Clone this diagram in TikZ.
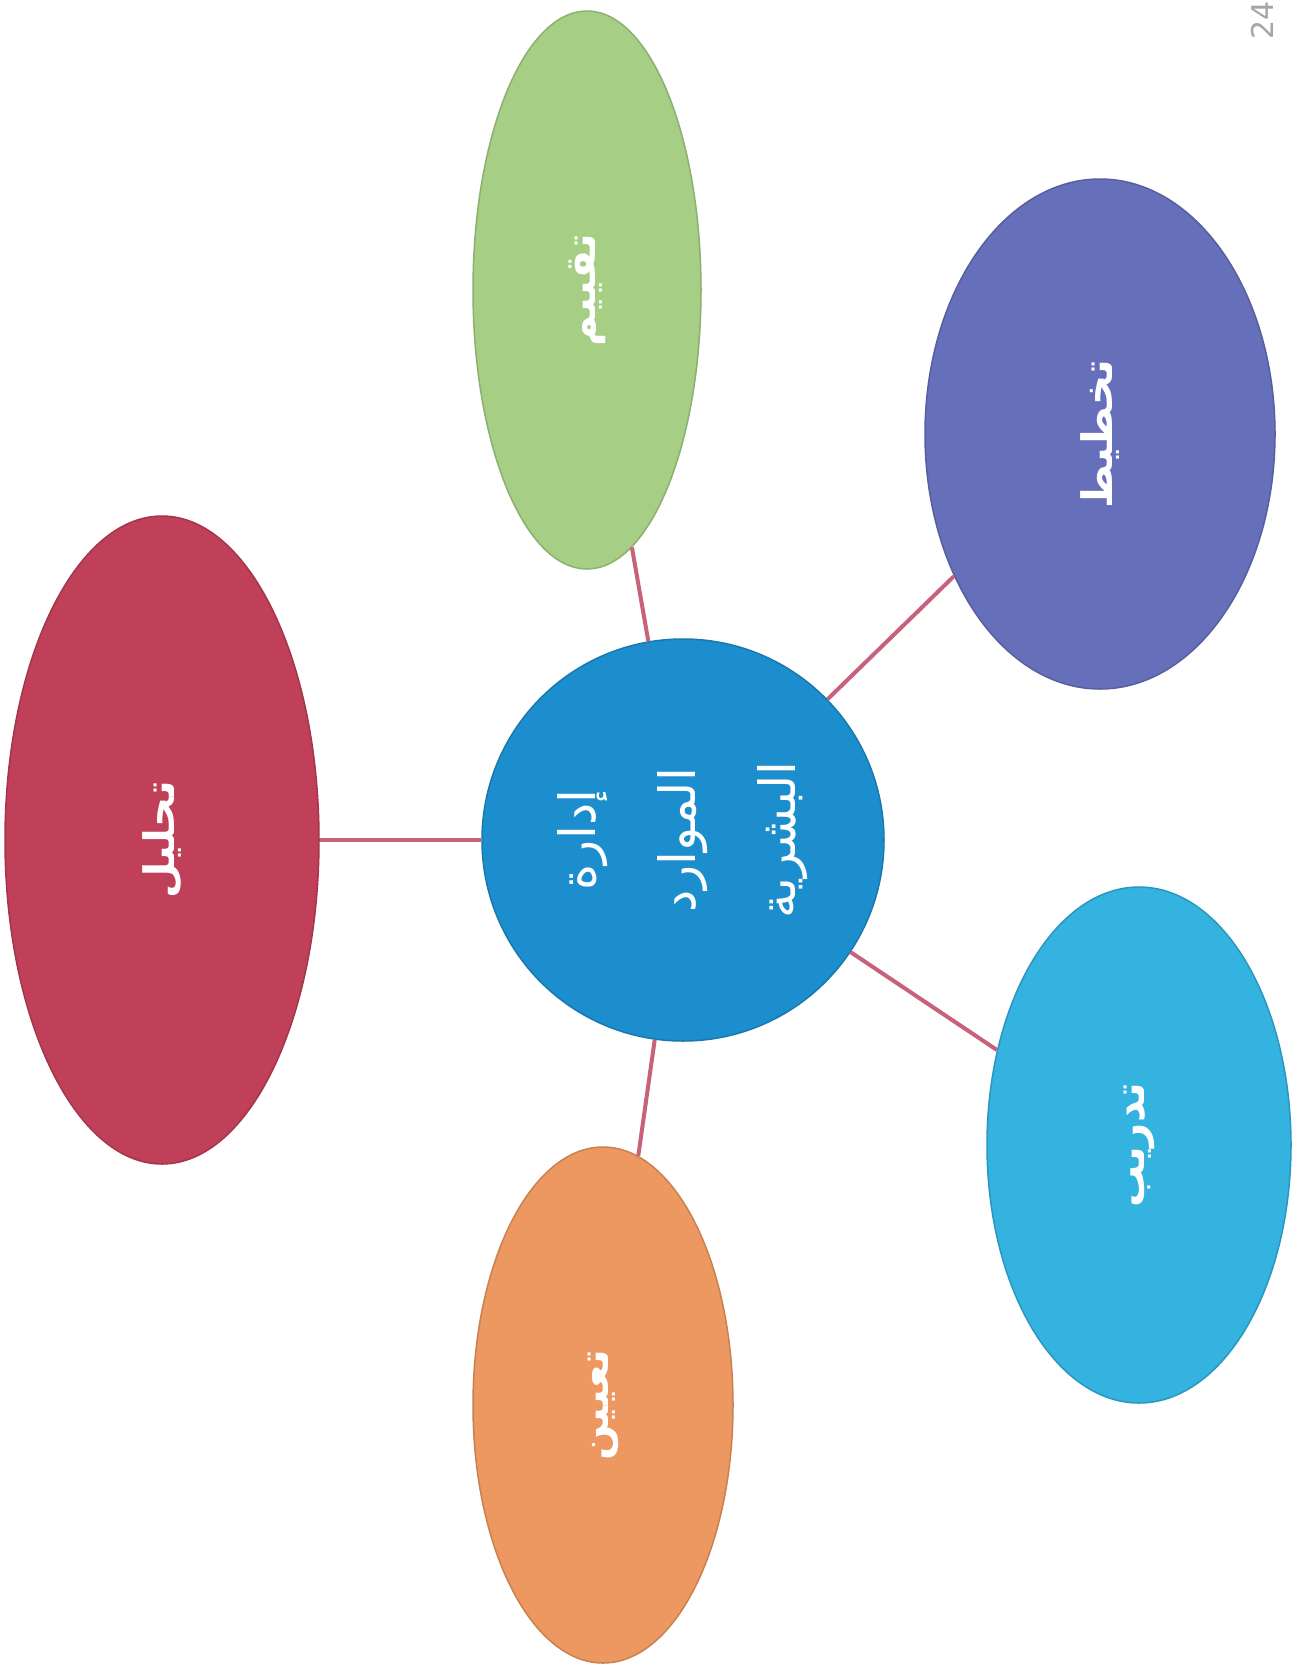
\documentclass[tikz,border=0pt]{standalone}
\usepackage{fontspec}
\usepackage{tikz}
\usetikzlibrary{shapes.geometric}
\TeXXeTstate=1
\newfontfamily\arabicfont[Script=Arabic]{DejaVu Sans}
\definecolor{hrmred}{RGB}{192, 64, 90}
\definecolor{hrmgreen}{RGB}{166, 206, 132}
\definecolor{hrmpurple}{RGB}{102, 112, 186}
\definecolor{hrmcyan}{RGB}{52, 178, 224}
\definecolor{hrmorange}{RGB}{236, 152, 96}
\definecolor{hrmblue}{RGB}{28, 142, 206}
\definecolor{hrmlink}{RGB}{200, 98, 122}

\begin{document}
\begin{tikzpicture}[x=1pt, y=-1pt, every node/.style={align=center, text=white, rotate=90},
    bubble/.style={ellipse, draw=#1!85!black, line width=1.5pt, fill=#1, inner sep=0pt,
      font=\arabicfont\bfseries\fontsize{42}{52}\selectfont},
    link/.style={draw=hrmlink, line width=4pt}]
    \fill[white] (0,0) rectangle (1303,1666);
    \useasboundingbox (0,0) rectangle (1303,1666);

    \node[circle, draw=hrmblue!85!black, line width=1.5pt, fill=hrmblue, minimum size=402pt, inner sep=0pt,
      font=\arabicfont\fontsize{50}{100}\selectfont] (hrm) at (683, 840)
      {\beginR إدارة\endR\\ \beginR الموارد\endR\\ \beginR البشرية\endR};

    \node[bubble=hrmred, minimum width=648pt, minimum height=314pt] (analysis) at (162, 840)
      {\beginR تحليل\endR};
    \node[bubble=hrmgreen, minimum width=558pt, minimum height=228pt] (evaluation) at (587, 290)
      {\beginR تقييم\endR};
    \node[bubble=hrmpurple, minimum width=510pt, minimum height=350pt] (planning) at (1100, 434)
      {\beginR تخطيط\endR};
    \node[bubble=hrmcyan, minimum width=516pt, minimum height=304pt] (training) at (1139, 1145)
      {\beginR تدريب\endR};
    \node[bubble=hrmorange, minimum width=516pt, minimum height=260pt] (hiring) at (603, 1405)
      {\beginR تعيين\endR};

    \node[text=black!35, font=\arabicfont\fontsize{30}{34}\selectfont] (page) at (1262, 20) {24};

    \draw[link] (hrm) -- (analysis);
    \draw[link] (hrm) -- (evaluation);
    \draw[link] (hrm) -- (planning);
    \draw[link] (hrm) -- (training);
    \draw[link] (hrm) -- (hiring);
\end{tikzpicture}
\end{document}
